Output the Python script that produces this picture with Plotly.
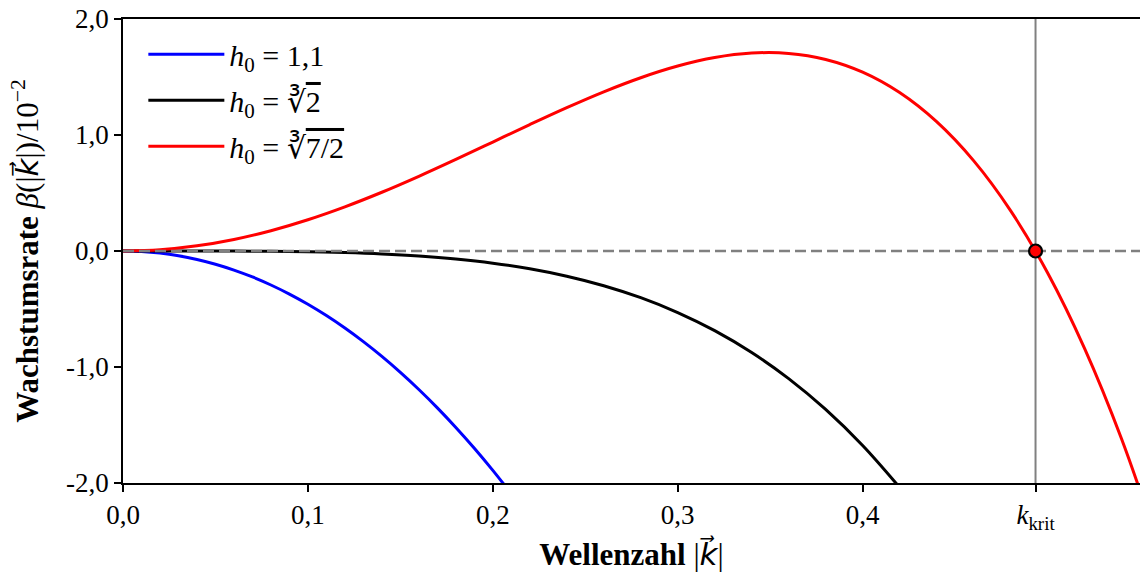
import plotly.graph_objects as go

# Wellenzahl-Stützstellen und Wachstumsraten (in Einheiten von 10^-2)
k_blue = [0.00, 0.01, 0.02, 0.03, 0.04, 0.05, 0.06, 0.07, 0.08, 0.09, 0.10,
          0.11, 0.12, 0.13, 0.14, 0.15, 0.16, 0.17, 0.18, 0.19, 0.20, 0.21]
beta_blue = [0.0, -0.0046, -0.0182, -0.0410, -0.0729, -0.1140, -0.1644, -0.2240,
             -0.2930, -0.3715, -0.4594, -0.5570, -0.6644, -0.7816, -0.9088, -1.0462,
             -1.1939, -1.3520, -1.5208, -1.7004, -1.8910, -2.0928]

k_black = [0.00, 0.02, 0.04, 0.06, 0.08, 0.10, 0.12, 0.14, 0.16, 0.18, 0.20,
           0.22, 0.24, 0.26, 0.28, 0.30, 0.32, 0.34, 0.36, 0.38, 0.40, 0.42]
beta_black = [0.0, -0.00001, -0.0002, -0.0008, -0.0027, -0.0066, -0.0136, -0.0252,
              -0.0429, -0.0688, -0.1048, -0.1534, -0.2173, -0.2993, -0.4026, -0.5306,
              -0.6868, -0.8753, -1.1002, -1.3658, -1.6768, -2.0382]

k_red = [0.00, 0.02, 0.04, 0.06, 0.08, 0.10, 0.12, 0.14, 0.16, 0.18, 0.20, 0.22,
         0.24, 0.26, 0.28, 0.30, 0.32, 0.34, 0.36, 0.38, 0.40, 0.42, 0.44, 0.46,
         0.48, 0.50, 0.52, 0.54, 0.56]
beta_red = [0.0, 0.0112, 0.0447, 0.0997, 0.1751, 0.2695, 0.3807, 0.5064, 0.6437,
            0.7893, 0.9394, 1.0897, 1.2357, 1.3722, 1.4937, 1.5943, 1.6674, 1.7062,
            1.7035, 1.6514, 1.5418, 1.3659, 1.1149, 0.7790, 0.3483, -0.1875,
            -0.8394, -1.6186, -2.5369]

k_krit = 0.4935
x_range = [0.0, 0.55]
y_range = [-2.0, 2.0]

x_tickvals = [0.0, 0.1, 0.2, 0.3, 0.4, k_krit]
x_ticktext = ["0,0", "0,1", "0,2", "0,3", "0,4", "<i>k</i><sub>krit</sub>"]
y_tickvals = [-2.0, -1.0, 0.0, 1.0, 2.0]
y_ticktext = ["-2,0", "-1,0", "0,0", "1,0", "2,0"]

labels = [
    "<i>h</i><sub>0</sub> = 1,1",
    "<i>h</i><sub>0</sub> = ∛<span style='text-decoration:overline'>2</span>",
    "<i>h</i><sub>0</sub> = ∛<span style='text-decoration:overline'>7/2</span>",
]
colors = ["#0000ff", "#000000", "#ff0000"]

FONT = "Liberation Serif"
FS = 27
TITLE_FS = 31
LEGEND_FS = 30
KVEC = "<span style='font-family:DejaVu Sans;font-style:oblique'>k\u20d7</span>"

fig = go.Figure()

# Senkrechte Linie bei k_krit
fig.add_trace(go.Scatter(x=[k_krit, k_krit], y=y_range, mode="lines",
                         line=dict(color="#808080", width=2),
                         showlegend=False, hoverinfo="skip"))

for i, (kx, by) in enumerate([(k_blue, beta_blue), (k_black, beta_black), (k_red, beta_red)]):
    fig.add_trace(go.Scatter(x=kx, y=by, mode="lines", name=labels[i],
                             legendgroup=f"g{i}",
                             line=dict(color=colors[i], width=3, shape="spline",
                                       smoothing=1.0)))

# Gestrichelte Nulllinie über den Kurven
fig.add_trace(go.Scatter(x=x_range, y=[0, 0], mode="lines",
                         line=dict(color="#808080", width=2.5, dash="11px,5px"),
                         showlegend=False, hoverinfo="skip"))

# Kritischer Punkt
fig.add_trace(go.Scatter(x=[k_krit], y=[0], mode="markers",
                         marker=dict(color="#ff0000", size=13,
                                     line=dict(color="#000000", width=2.2)),
                         showlegend=False, hoverinfo="skip", cliponaxis=False))

axis_common = dict(
    showgrid=False, zeroline=False, showline=True, linecolor="black", linewidth=1.6,
    ticks="outside", ticklen=7, tickwidth=1.6, tickcolor="black",
    tickfont=dict(family=FONT, size=FS, color="black"),
)

fig.update_layout(
    width=1140, height=578,
    margin=dict(l=123, r=0, t=19, b=95),
    paper_bgcolor="white", plot_bgcolor="white",
    font=dict(family=FONT, size=FS, color="black"),
    xaxis=dict(range=x_range, tickmode="array", tickvals=x_tickvals, ticktext=x_ticktext,
               mirror=True,
               title=dict(text=f"<b>Wellenzahl</b> |{KVEC}|", standoff=10,
                          font=dict(family=FONT, size=TITLE_FS)),
               **axis_common),
    yaxis=dict(range=y_range, tickmode="array", tickvals=y_tickvals, ticktext=y_ticktext,
               title=dict(text=f"<b>Wachstumsrate</b> <i>β</i>(|{KVEC}|)/10<sup>−2</sup>",
                          standoff=18, font=dict(family=FONT, size=TITLE_FS)),
               **axis_common),
    legend=dict(x=0.02, y=0.98, xanchor="left", yanchor="top",
                bgcolor="rgba(0,0,0,0)", borderwidth=0,
                font=dict(family=FONT, size=LEGEND_FS), tracegroupgap=4, itemwidth=76),
    showlegend=True,
)

fig.write_html("out.html")
